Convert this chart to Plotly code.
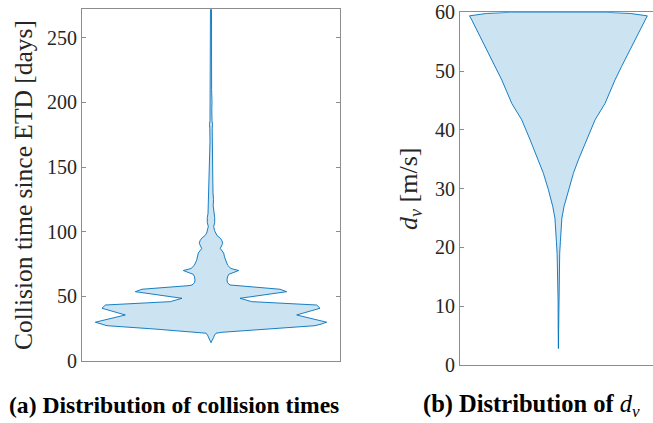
import plotly.graph_objects as go

# ---- data: violin profiles (value level, relative density; max = 1) ----
ct_levels = [14.2, 16, 18, 20, 21.5, 22.2, 24.7, 27.3, 28.5, 30, 35.6, 40.8, 43.3, 45.9,
             48.5, 53.6, 55.5, 58.3, 58.8, 60.5, 62.7, 65, 67, 70, 71.5, 74, 78, 80.5,
             83.5, 87, 89, 91, 93, 95, 97, 99, 101, 104, 107, 111, 114, 120, 125, 130,
             140, 150, 158, 160, 163, 170, 180, 183, 186, 195, 200, 210, 230, 250, 280]
ct_width_px = [0, 1.5, 2.5, 3.5, 5, 10.7, 56, 104, 110, 115.7, 85.7, 109, 105.7, 40.7,
               29, 75.7, 69, 22, 19, 16.5, 16, 16.5, 17.7, 27.7, 20, 16.7, 14.3, 13.5,
               12.7, 9.3, 10.5, 11.7, 11, 9.3, 6, 4.3, 3.5, 2.7, 3.7, 3.7, 3, 2.2, 2.5, 2,
               1.8, 1.5, 1.2, 1.8, 1.2, 1, 1.2, 1.5, 1, 0.8, 1, 0.6, 0.5, 0.5, 0.5]
ct_density = [w / 115.7 for w in ct_width_px]

dv_levels = [2.8, 6, 11, 15, 19, 21, 23.5, 25, 27, 29.8, 32.6, 34.9, 38.3, 41.7, 44.5,
             48.5, 50.8, 53.6, 56.4, 58.7, 59.4, 59.8, 60.0, 60.0]
dv_width_px = [0, 0.2, 0.33, 0.7, 1.3, 2, 2.7, 3.5, 5.7, 10, 15, 20, 28.3, 36.7, 46.7,
               56.7, 63.3, 71.7, 80, 86.7, 89, 72, 48, 0]
dv_density = [w / 89.0 for w in dv_width_px]

ct_ticks = [0, 50, 100, 150, 200, 250]
dv_ticks = [0, 10, 20, 30, 40, 50, 60]

# ---- styling ----
W, H = 653, 423
FILL = "rgb(204,227,242)"
EDGE = "#0072BD"
AXC = "#8c8c8c"
TXT = "#262626"
SERIF = "Liberation Serif, Times New Roman, serif"
L_SCALE = 115.7 / 129.0   # max half width relative to axis half width
R_SCALE = 89.0 / 98.5


def px(x):
    return x / W


def py(y):
    return 1 - y / H


def outline(levels, dens, scale):
    xs = [d * scale for d in dens] + [-d * scale for d in reversed(dens)]
    ys = list(levels) + list(reversed(levels))
    xs.append(xs[0]); ys.append(ys[0])
    return xs, ys


fig = go.Figure()
x1, y1 = outline(ct_levels, ct_density, L_SCALE)
fig.add_trace(go.Scatter(x=x1, y=y1, mode="lines", fill="toself", fillcolor=FILL,
                         line=dict(color=EDGE, width=0.9), xaxis="x", yaxis="y",
                         hoverinfo="skip", showlegend=False))
x2, y2 = outline(dv_levels, dv_density, R_SCALE)
fig.add_trace(go.Scatter(x=x2, y=y2, mode="lines", fill="toself", fillcolor=FILL,
                         line=dict(color=EDGE, width=0.9), xaxis="x2", yaxis="y2",
                         hoverinfo="skip", showlegend=False))

ax_common = dict(showgrid=False, zeroline=False, showline=True, linecolor=AXC, linewidth=1,
                 automargin=False)
y_common = dict(ticks="inside", ticklen=4, tickcolor=AXC, ticklabeloverflow="allow",
                tickfont=dict(family=SERIF, size=20, color=TXT))

fig.update_layout(
    width=W, height=H, margin=dict(l=0, r=0, t=0, b=0, autoexpand=False),
    paper_bgcolor="white", plot_bgcolor="white",
    xaxis=dict(domain=[px(82), px(340)], range=[-1, 1], mirror=True, showticklabels=False,
               ticks="", anchor="y", **ax_common),
    yaxis=dict(domain=[py(361), py(9.3)], range=[0, 272], tickvals=ct_ticks,
               mirror="ticks", anchor="x", **y_common, **ax_common),
    xaxis2=dict(domain=[px(460), 1.0], range=[-1, (653 - 558.3) / 98.5], mirror=True,
                showticklabels=False, ticks="", anchor="y2", **ax_common),
    yaxis2=dict(domain=[py(365), py(12.3)], range=[0, 60], tickvals=dv_ticks,
                mirror=False, anchor="x2", **y_common, **ax_common),
)

ann = [
    dict(text="Collision time since ETD [days]", x=px(23), y=py(185), textangle=-90,
         font=dict(family=SERIF, size=25.5, color=TXT)),
    dict(text="<i>d</i><sub><i>v</i></sub> [m/s]", x=px(410), y=py(189), textangle=-90,
         font=dict(family=SERIF, size=26, color=TXT)),
    dict(text="<b>(a) Distribution of collision times</b>", x=px(174), y=py(405),
         font=dict(family=SERIF, size=23.6, color="black")),
    dict(text="<b>(b) Distribution of </b><i>d</i><sub><i>v</i></sub>", x=px(531), y=py(405),
         font=dict(family=SERIF, size=24.5, color="black")),
]
for a in ann:
    fig.add_annotation(xref="paper", yref="paper", showarrow=False, xanchor="center",
                       yanchor="middle", **a)

fig.write_html("out.html", config={"displayModeBar": False},
               post_script="document.body.style.margin='0';document.body.style.padding='0';")
